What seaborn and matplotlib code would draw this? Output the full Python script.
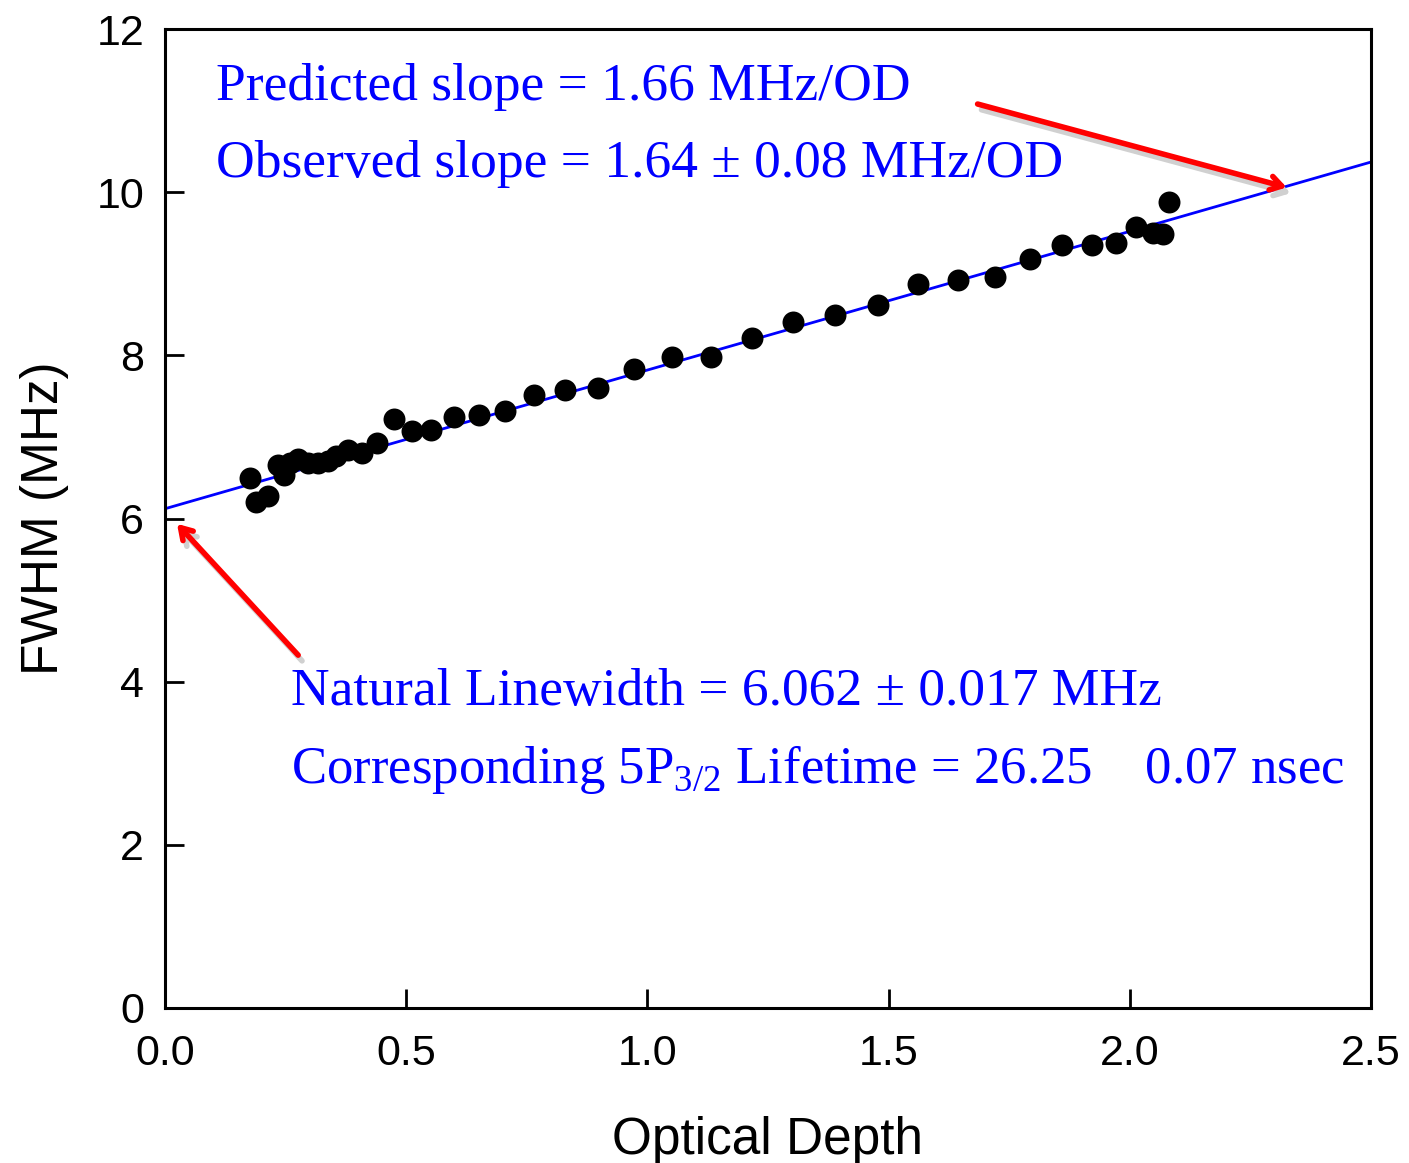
import numpy as np
import matplotlib.pyplot as plt
import seaborn as sns

# data
od = [0.176, 0.189, 0.214, 0.234, 0.247, 0.259, 0.276, 0.296, 0.317, 0.338,
      0.354, 0.379, 0.408, 0.440, 0.475, 0.512, 0.551, 0.599, 0.651, 0.705,
      0.765, 0.829, 0.898, 0.972, 1.051, 1.132, 1.217, 1.302, 1.389, 1.478,
      1.561, 1.644, 1.721, 1.793, 1.859, 1.922, 1.971, 2.013, 2.048, 2.069, 2.081]
fwhm = [6.50, 6.20, 6.27, 6.65, 6.53, 6.68, 6.73, 6.68, 6.68, 6.71,
        6.77, 6.84, 6.80, 6.92, 7.22, 7.07, 7.08, 7.25, 7.27, 7.32,
        7.51, 7.57, 7.60, 7.83, 7.98, 7.98, 8.21, 8.41, 8.49, 8.62,
        8.87, 8.93, 8.96, 9.18, 9.35, 9.35, 9.38, 9.57, 9.50, 9.49, 9.88]

# fitted line end points
fit_x = [0.0, 2.5]
fit_y = [6.12, 10.37]

x_ticks = [0.0, 0.5, 1.0, 1.5, 2.0, 2.5]
y_ticks = [0, 2, 4, 6, 8, 10, 12]

sns.set_style("ticks")
plt.rcParams["font.family"] = ["Liberation Sans", "DejaVu Sans"]
plt.rcParams["mathtext.fontset"] = "custom"
plt.rcParams["mathtext.rm"] = "Liberation Serif"

fig, ax = plt.subplots(figsize=(14.09, 11.63), dpi=100)
fig.subplots_adjust(left=0.1171, right=0.973, top=0.975, bottom=0.1333)

sns.lineplot(x=fit_x, y=fit_y, color="#0000ff", linewidth=2, ax=ax)
sns.scatterplot(x=od, y=fwhm, color="black", s=250, edgecolor="black", linewidth=0, ax=ax, zorder=3)

ax.set_xlim(0, 2.5)
ax.set_ylim(0, 12)
ax.set_xticks(x_ticks)
ax.set_xticklabels([f"{t:.1f}" for t in x_ticks])
ax.set_yticks(y_ticks)
ax.tick_params(direction="in", length=14, width=2, labelsize=31, colors="black")
ax.tick_params(axis="x", pad=19)
ax.tick_params(axis="y", pad=15)
for sp in ax.spines.values():
    sp.set_linewidth(2.2)
    sp.set_color("black")
ax.set_xlabel("Optical Depth", fontsize=37, labelpad=30, color="black")
ax.set_ylabel("FWHM (MHz)", fontsize=37, labelpad=20, color="black")

serif = ["Liberation Serif", "DejaVu Serif"]
blue = "#0000ff"
ax.text(0.0423, 0.9275, "Predicted slope = 1.66 MHz/OD", transform=ax.transAxes,
        fontsize=38.5, color=blue, family=serif, va="baseline")
ax.text(0.0423, 0.849, "Observed slope = 1.64 \u00b1 0.08 MHz/OD", transform=ax.transAxes,
        fontsize=38.5, color=blue, family=serif, va="baseline")
ax.text(0.1045, 0.3095, "Natural Linewidth = 6.062 \u00b1 0.017 MHz", transform=ax.transAxes,
        fontsize=38.5, color=blue, family=serif, va="baseline")
ax.text(0.1045, 0.2298, r"Corresponding 5P$_{\mathregular{3/2}}$ Lifetime = 26.25    0.07 nsec",
        transform=ax.transAxes, fontsize=38, color=blue, family=serif, va="baseline")

# red arrows with a light grey shadow
arrows = [((1.679, 11.09), (2.331, 10.05)), ((0.280, 4.30), (0.021, 5.96))]
for start, end in arrows:
    ax.annotate("", xy=(end[0] + 0.008, end[1] - 0.07), xytext=(start[0] + 0.008, start[1] - 0.07),
                arrowprops=dict(arrowstyle="->,head_length=0.8,head_width=0.5", color="#d0d0d0", lw=4))
    ax.annotate("", xy=end, xytext=start,
                arrowprops=dict(arrowstyle="->,head_length=0.8,head_width=0.5", color="red", lw=4))

plt.savefig("out.png", dpi=100)
